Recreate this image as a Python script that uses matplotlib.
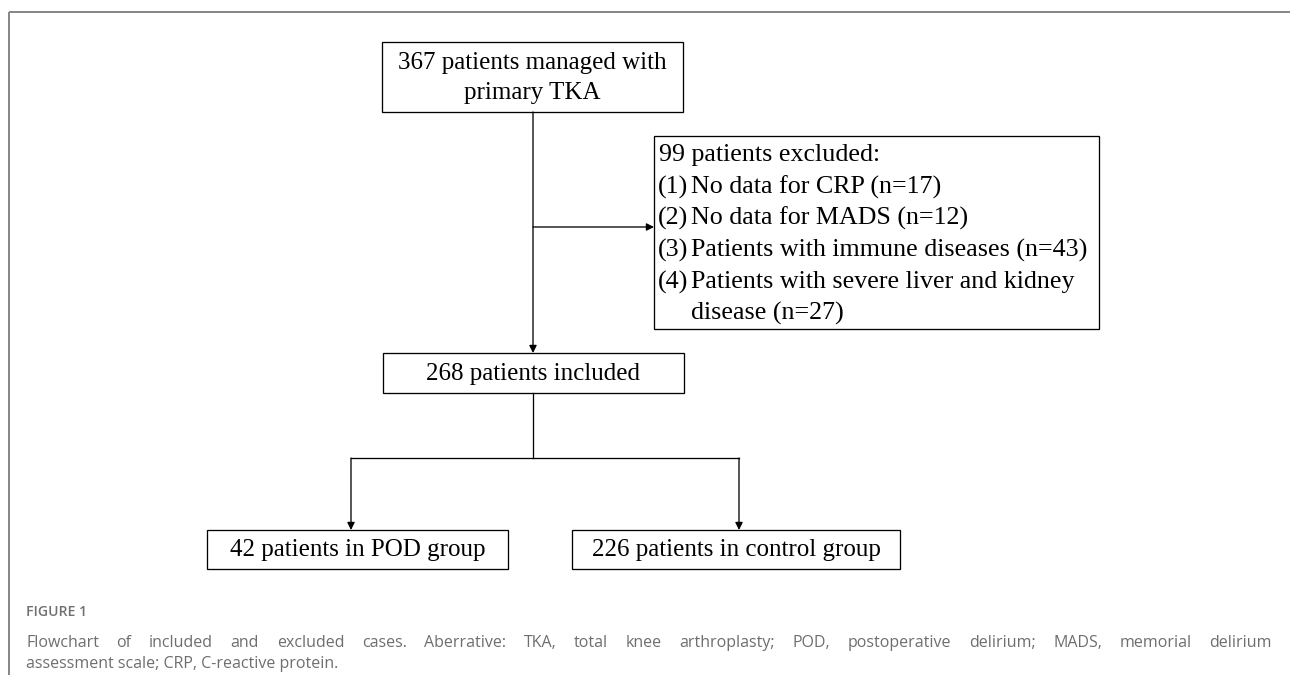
import matplotlib.pyplot as plt
from matplotlib.patches import Rectangle

# flowchart text
top_text = ["367 patients managed with", "primary TKA"]
excluded_title = "99 patients excluded:"
excluded_tags = ["(1)", "(2)", "(3)", "(4)", ""]
excluded_items = ["No data for CRP (n=17)", "No data for MADS (n=12)",
                  "Patients with immune diseases (n=43)",
                  "Patients with severe liver and kidney", "disease (n=27)"]
included_text = "268 patients included"
group_text = ["42 patients in POD group", "226 patients in control group"]

fig_label = "FIGURE 1"
caption_line1 = ("Flowchart of included and excluded cases. Aberrative: TKA, total knee "
                 "arthroplasty; POD, postoperative delirium; MADS, memorial delirium")
caption_line2 = "assessment scale; CRP, C-reactive protein."

W, H = 1290, 675
fig = plt.figure(figsize=(W / 100, H / 100), dpi=100)
ax = fig.add_axes([0, 0, 1, 1])
ax.set_xlim(0, W)
ax.set_ylim(H, 0)
ax.axis("off")

px = 72 / 100  # pixel -> point
serif = dict(family="Liberation Serif", fontsize=25 * px, color="black")
serif_ex = dict(family="Liberation Serif", fontsize=26 * px, color="black")
box_lw = 1.3 * px
line_kw = dict(color="black", lw=1.3 * px)


def box(x0, y0, x1, y1):
    ax.add_patch(Rectangle((x0, y0), x1 - x0, y1 - y0, fill=False,
                           ec="black", lw=box_lw))


def arrow(x0, y0, x1, y1):
    ax.annotate("", xy=(x1, y1), xytext=(x0, y0),
                arrowprops=dict(arrowstyle="-|>", color="black", lw=1.3 * px,
                                mutation_scale=11, shrinkA=0, shrinkB=0))


# frame of the figure panel
ax.plot([9, W], [12, 12], color="#888888", lw=2 * px, solid_capstyle="butt")
ax.plot([9, 9], [12, H], color="#888888", lw=2 * px, solid_capstyle="butt")

# top box
box(382, 42, 683, 112)
for line, y in zip(top_text, [63, 93]):
    ax.text(532.5, y, line, ha="center", va="center", **serif)

# main vertical + exclusion arrow
arrow(533, 112, 533, 353)
arrow(533, 227, 654, 227)

# exclusion box
box(654, 136, 1099, 329)
ys = [155, 187, 218, 250, 282, 313]
ax.text(659, ys[0], excluded_title, ha="left", va="center", **serif_ex)
for tag, item, y in zip(excluded_tags, excluded_items, ys[1:]):
    ax.text(658, y, tag, ha="left", va="center", **serif_ex)
    ax.text(691, y, item, ha="left", va="center", **serif_ex)

# included box
box(383, 353, 684, 393)
ax.text(533.5, 374, included_text, ha="center", va="center", **serif)

# split
ax.plot([533, 533], [393, 458], **line_kw)
ax.plot([351, 739], [458, 458], **line_kw)
arrow(351, 458, 351, 530)
arrow(739, 458, 739, 530)

box(207, 530, 508, 569)
ax.text(357.5, 550, group_text[0], ha="center", va="center", **serif)
box(572, 530, 900, 569)
ax.text(736, 550, group_text[1], ha="center", va="center", **serif)

# caption
cap = dict(family="Open Sans", fontsize=16 * px, color="#6e6e6e")
ax.text(26, 612, fig_label, ha="left", va="center", family="Open Sans",
        fontsize=14 * px, color="#707070", fontweight="semibold")

renderer = fig.canvas.get_renderer()


def justify(words, x0, x1, y):
    texts = [ax.text(0, y, w, ha="left", va="center", **cap) for w in words]
    widths = [t.get_window_extent(renderer).width for t in texts]
    gap = (x1 - x0 - sum(widths)) / (len(words) - 1)
    x = x0
    for t, w in zip(texts, widths):
        t.set_x(x)
        x += w + gap


justify(caption_line1.split(), 26, 1272, 643)
ax.text(26, 664, caption_line2, ha="left", va="center", **cap)

fig.savefig("out.png", dpi=100, facecolor="white")
